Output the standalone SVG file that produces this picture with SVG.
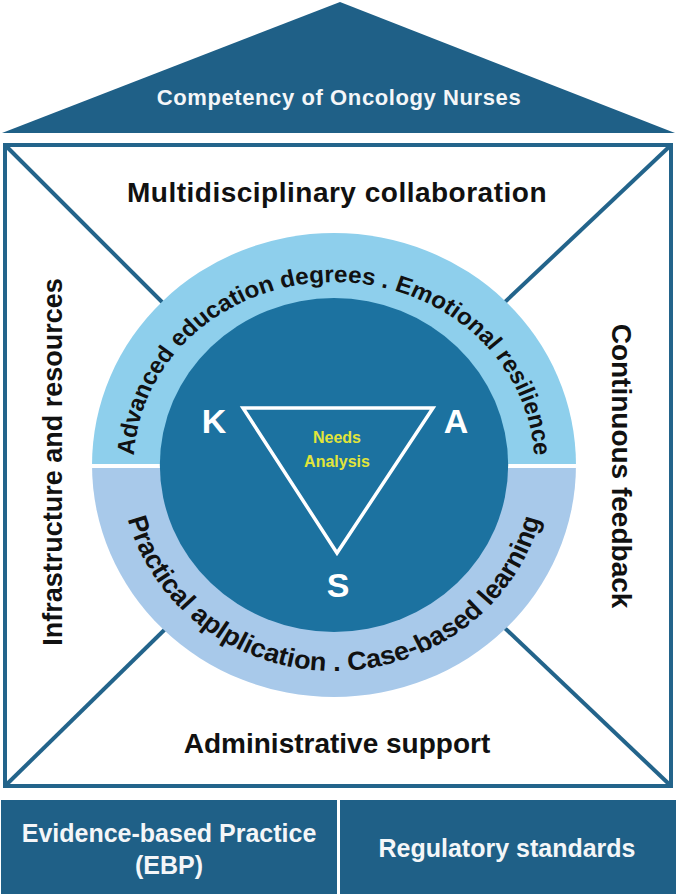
<svg xmlns="http://www.w3.org/2000/svg" width="676" height="894" viewBox="0 0 676 894">
<style>
.dark{fill:#1F6087;}
.frame{fill:#FFFFFF;stroke:#23648B;stroke-width:4;}
.diag{stroke:#23648B;stroke-width:4;fill:none;}
.head{font-family:"Liberation Sans",Arial,sans-serif;font-weight:bold;fill:#111111;text-anchor:middle;}
.wt{font-family:"Liberation Sans",Arial,sans-serif;font-weight:bold;fill:#F4F6F8;text-anchor:middle;}
.arc{font-family:"Liberation Sans",Arial,sans-serif;fill:#111111;font-weight:bold;}
.ksa{font-family:"Liberation Sans",Arial,sans-serif;font-weight:bold;fill:#FFFFFF;font-size:34px;text-anchor:middle;}
.needs{font-family:"Liberation Sans",Arial,sans-serif;font-weight:bold;fill:#E2E53A;font-size:16px;text-anchor:middle;}
</style>
<defs>
<path id="topArc" d="M -192 0 A 192 183 0 0 1 192 0"/>
<path id="botArc" d="M -205 0 A 205 206 0 0 0 205 0"/>
</defs>

<g id="roof">
<polygon class="dark" points="2,133 340,2 675,133"/>
<text class="wt" x="339" y="105" font-size="22" letter-spacing="0.6">Competency of Oncology Nurses</text>
</g>

<g id="house">
<rect class="frame" x="5" y="145" width="666" height="641"/>
</g>

<g id="connectors">
<line class="diag" x1="6" y1="146" x2="200" y2="340"/>
<line class="diag" x1="670" y1="146" x2="470" y2="335"/>
<line class="diag" x1="6" y1="785" x2="200" y2="595"/>
<line class="diag" x1="670" y1="785" x2="470" y2="595"/>
</g>

<g id="core" transform="translate(334,465) scale(1.043,1)">
<path d="M -232 0 A 232 232 0 0 1 232 0 Z" fill="#8ECFEC"/>
<path d="M -232 0 A 232 232 0 0 0 232 0 Z" fill="#A8C9EA"/>
<line x1="-234" y1="1" x2="234" y2="1" stroke="#FFFFFF" stroke-width="4"/>
<circle r="167" fill="#1C72A0"/>
<text class="arc" font-size="23.3"><textPath href="#topArc" startOffset="50%" text-anchor="middle">Advanced education degrees . Emotional resilience</textPath></text>
<text class="arc" font-size="26"><textPath href="#botArc" startOffset="50%" text-anchor="middle">Practical aplplication . Case-based learning</textPath></text>
</g>

<g id="ksa">
<polygon points="243,408 433,408 337,553" fill="none" stroke="#FFFFFF" stroke-width="3.5" stroke-linejoin="miter"/>
<text class="ksa" x="214" y="433">K</text>
<text class="ksa" x="456" y="433">A</text>
<text class="ksa" x="338" y="597">S</text>
<text class="needs" x="337" y="443">Needs</text>
<text class="needs" x="337" y="467">Analysis</text>
</g>

<g id="top-label">
<text class="head" x="337" y="202" font-size="28" letter-spacing="0.5">Multidisciplinary collaboration</text>
</g>
<g id="left-label">
<text class="head" transform="translate(62,462) rotate(-90)" font-size="27">Infrastructure and resources</text>
</g>
<g id="right-label">
<text class="head" transform="translate(612,466) rotate(90)" font-size="28">Continuous feedback</text>
</g>
<g id="bottom-label">
<text class="head" x="337" y="753" font-size="28">Administrative support</text>
</g>

<g id="ebp">
<rect class="dark" x="1" y="800" width="336" height="94"/>
<text class="wt" x="169" y="842" font-size="25">Evidence-based Practice</text>
<text class="wt" x="169" y="874" font-size="25">(EBP)</text>
</g>
<g id="regulatory">
<rect class="dark" x="340" y="800" width="336" height="94"/>
<text class="wt" x="507" y="857" font-size="25">Regulatory standards</text>
</g>
</svg>
